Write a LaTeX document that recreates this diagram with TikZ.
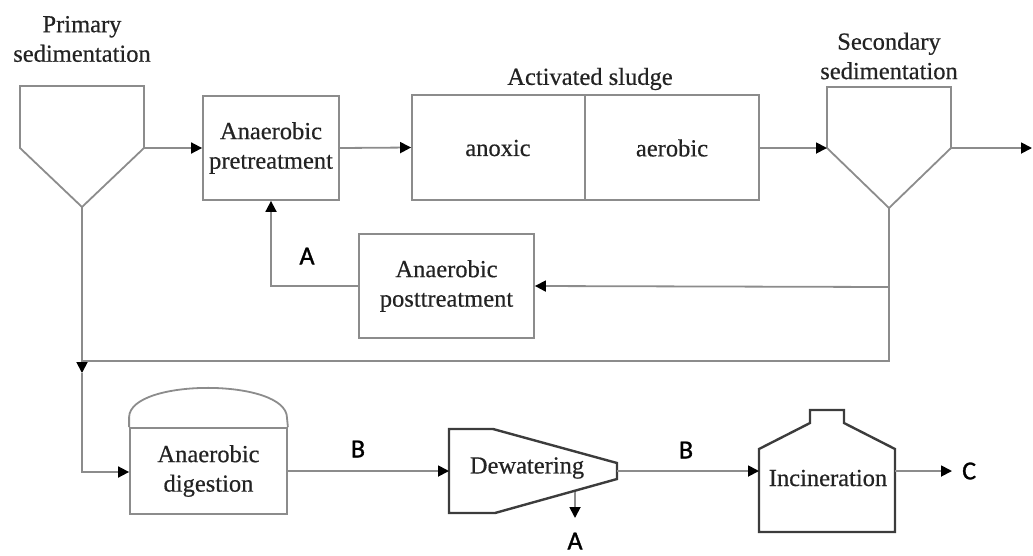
\documentclass[tikz,border=0pt]{standalone}
\usepackage{fontspec}
\setmainfont[FakeBold=0.5]{Liberation Serif}
\newfontfamily\lblfont[FakeBold=1.2]{Carlito}
\usetikzlibrary{arrows.meta}
\definecolor{linegray}{RGB}{140,140,140}
\definecolor{darkline}{RGB}{60,60,60}
\definecolor{txt}{RGB}{35,35,35}
\tikzset{
  pline/.style={draw=linegray, line width=1.8pt},
  heavy/.style={draw=darkline, line width=2.4pt, line join=miter},
  arr/.style={pline, -{Triangle[length=11pt,width=11pt,color=black]}},
  boxnode/.style={pline, rectangle, inner sep=0pt, text=txt, align=center,
     font=\fontsize{24.5}{29.5}\selectfont},
  txtnode/.style={inner sep=0pt, text=txt, align=center, font=\fontsize{24.5}{29.5}\selectfont},
  lbl/.style={inner sep=0pt, text=black, font=\lblfont\fontsize{26}{30}\selectfont},
}
\begin{document}
\begin{tikzpicture}[x=1pt,y=-1pt]
\useasboundingbox (0,0) rectangle (1033,555);
% Primary sedimentation
\node[txtnode] (ptitle) at (82,39) {Primary\\sedimentation};
\draw[pline] (20,148) -- (20,86) -- (144,86) -- (144,148) -- (82,207) -- cycle;
\coordinate (papex) at (82,207);
\coordinate (pout) at (144,148);
% Anaerobic pretreatment
\node[boxnode, minimum width=136pt, minimum height=104pt] (pre) at (271,148) {Anaerobic\\pretreatment};
% Activated sludge
\node[boxnode, minimum width=347pt, minimum height=105pt] (as) at (585.5,147.5) {};
\draw[pline] (585,95) -- (585,200);
\node[txtnode] (astitle) at (590,79) {Activated sludge};
\node[txtnode] (anoxic) at (498,148) {anoxic};
\node[txtnode] (aerobic) at (672,148) {aerobic};
% Secondary sedimentation
\node[txtnode] (stitle) at (889,56) {Secondary\\sedimentation};
\draw[pline] (827,148) -- (827,87) -- (951,87) -- (951,148) -- (889,208) -- cycle;
\coordinate (sin) at (827,148);
\coordinate (sout) at (951,148);
\coordinate (sapex) at (889,208);
\coordinate (eff) at (1032,148);
% Anaerobic posttreatment
\node[boxnode, minimum width=175pt, minimum height=104pt] (post) at (446.5,286) {Anaerobic\\posttreatment};
% Anaerobic digestion
\node[boxnode, minimum width=157pt, minimum height=86pt] (dig) at (208.5,471) {Anaerobic\\digestion};
\draw[pline] (dig.north west) -- ++(0,-10) .. controls (130,378) and (287,378) .. (287,418) -- (dig.north east);
% Dewatering
\draw[heavy] (449,429) -- (493,429) -- (617,463) -- (617,479) -- (495,513) -- (449,513) -- cycle;
\node[txtnode] (dew) at (527,468) {Dewatering};
\coordinate (dwin) at (449,471);
\coordinate (dwout) at (617,471);
\coordinate (dwbot) at (575,492);
\coordinate (dwA) at (575,518);
% Incineration
\draw[heavy] (759,532) -- (759,449) -- (810,423) -- (810,410) -- (844,410) -- (844,423) -- (895,449) -- (895,532) -- cycle;
\node[txtnode] (inc) at (828,478) {Incineration};
\coordinate (incin) at (759,471);
\coordinate (incout) at (895,471);
\coordinate (cend) at (952,471);
% junctions
\coordinate (j1) at (889,287);
\coordinate (j2) at (889,361);
\coordinate (j3) at (82,361);
\coordinate (j3a) at (82,373);
\coordinate (j4) at (82,472);
% connectors
\draw[arr] (pout) -- (pre.west);
\draw[arr] (pre.east) -- (as.west);
\draw[arr] (as.east |- sin) -- (sin);
\draw[arr] (sout) -- (eff);
\draw[pline] (sapex) -- (j2) -- (j3);
\draw[arr] (j1) -- (post.east);
\draw[arr] (post.west) -| (pre.south);
\draw[pline] (papex) -- (j3);
\draw[arr] (j3) -- (j3a);
\draw[arr] (j3a) -- (j4) -- (dig.west |- j4);
\draw[arr] (dig.east |- dwin) -- (dwin);
\draw[arr] (dwout) -- (incin);
\draw[arr] (incout) -- (cend);
\draw[arr] (dwbot) -- (dwA);
% labels
\node[lbl] (lA1) at (307,256) {A};
\node[lbl] (lB1) at (358,449) {B};
\node[lbl] (lB2) at (686,450) {B};
\node[lbl, anchor=west] (lC) at (962,471) {C};
\node[lbl] (lA2) at (575,541) {A};
\end{tikzpicture}
\end{document}
